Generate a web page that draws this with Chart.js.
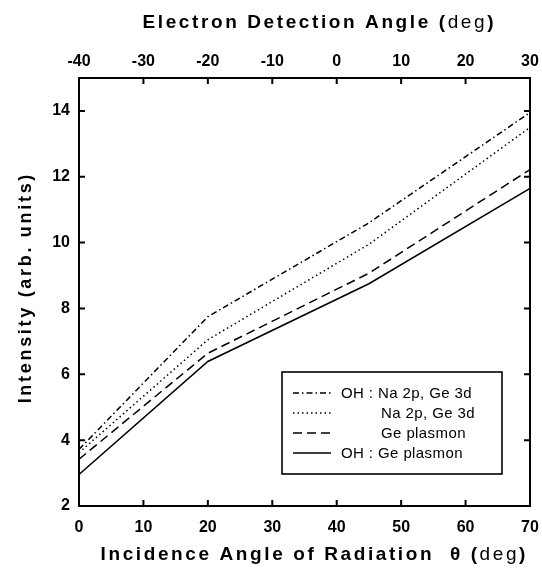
<!DOCTYPE html>
<html>
<head>
<meta charset="utf-8">
<script src="https://cdn.jsdelivr.net/npm/chart.js@4/dist/chart.umd.min.js"></script>
<style>
  html, body { margin: 0; padding: 0; background: #fff; }
  #wrap { width: 542px; height: 568px; }
</style>
</head>
<body>
<div id="wrap"><canvas id="chart" width="542" height="568"></canvas></div>
<script>
// incidence angles (bottom axis, deg)
var incidence = [0, 20, 45, 70];
// intensities (arb. units)
var ohNaGe = [3.72, 7.75, 10.6, 13.95];
var naGe = [3.62, 7.05, 9.95, 13.5];
var gePlasmon = [3.42, 6.64, 9.07, 12.22];
var ohGePlasmon = [2.96, 6.39, 8.75, 11.65];

var seriesNames = ["OH : Na 2p, Ge 3d", "Na 2p, Ge 3d", "Ge plasmon", "OH : Ge plasmon"];
var bottomTicks = [0, 10, 20, 30, 40, 50, 60, 70];
var topTicks = [-40, -30, -20, -10, 0, 10, 20, 30];
var yTicks = [2, 4, 6, 8, 10, 12, 14];

var dashes = [[6, 3, 1.5, 3], [1.5, 3], [9, 5], []];
var FONT = "'Liberation Sans', Arial, sans-serif";

function toPoints(vals) {
    return vals.map(function (v, i) { return { x: incidence[i], y: v }; });
}

function makeSet(idx, vals) {
    return {
        label: seriesNames[idx],
        data: toPoints(vals),
        borderColor: '#000',
        borderWidth: 1.5,
        borderDash: dashes[idx],
        pointRadius: 0,
        fill: false,
        tension: 0
    };
}

// text with letter spacing, mixed weights
function drawSpaced(ctx, parts, x, y, spacing, align) {
    var total = 0;
    parts.forEach(function (p) {
        ctx.font = p.font;
        for (var i = 0; i < p.text.length; i++) {
            total += ctx.measureText(p.text[i]).width + spacing;
        }
    });
    total -= spacing;
    var cx = align === 'center' ? x - total / 2 : x;
    ctx.textBaseline = 'middle';
    ctx.textAlign = 'left';
    parts.forEach(function (p) {
        ctx.font = p.font;
        for (var i = 0; i < p.text.length; i++) {
            ctx.fillText(p.text[i], cx, y);
            cx += ctx.measureText(p.text[i]).width + spacing;
        }
    });
}

// keep the plot box fixed, labels may hang over the edges
function noPad(s) {
    s.paddingLeft = 0; s.paddingRight = 0;
    s.paddingTop = 0; s.paddingBottom = 0;
}

var extras = {
    id: 'extras',
    afterDraw: function (chart) {
        var ctx = chart.ctx;
        var area = chart.chartArea;
        var sx = chart.scales.x, sx2 = chart.scales.x2, sy = chart.scales.y;
        ctx.save();
        ctx.strokeStyle = '#000';
        ctx.fillStyle = '#000';
        ctx.lineWidth = 2;

        // inward tick marks
        var len = 6;
        ctx.beginPath();
        bottomTicks.forEach(function (t) {
            var px = sx.getPixelForValue(t);
            ctx.moveTo(px, area.bottom); ctx.lineTo(px, area.bottom - len);
        });
        topTicks.forEach(function (t) {
            var px = sx2.getPixelForValue(t);
            ctx.moveTo(px, area.top); ctx.lineTo(px, area.top + len);
        });
        yTicks.forEach(function (t) {
            var py = sy.getPixelForValue(t);
            ctx.moveTo(area.left, py); ctx.lineTo(area.left + len, py);
            ctx.moveTo(area.right, py); ctx.lineTo(area.right - len, py);
        });
        ctx.stroke();

        // legend box
        var lx = 282, ly = 372, lw = 220, lh = 102;
        ctx.fillStyle = '#fff';
        ctx.fillRect(lx, ly, lw, lh);
        ctx.lineWidth = 1.6;
        ctx.strokeRect(lx, ly, lw, lh);
        var rowY = [393, 413, 433, 453];
        var textX = [341, 381, 381, 341];
        ctx.fillStyle = '#000';
        chart.data.datasets.forEach(function (ds, i) {
            ctx.lineWidth = 1.5;
            ctx.setLineDash(dashes[i]);
            ctx.beginPath();
            ctx.moveTo(293, rowY[i]);
            ctx.lineTo(331, rowY[i]);
            ctx.stroke();
            ctx.setLineDash([]);
            drawSpaced(ctx, [{ text: ds.label, font: '15px ' + FONT }], textX[i], rowY[i] + 1, 0.4, 'left');
        });

        // axis titles
        var bold = 'bold 19px ' + FONT, norm = '19px ' + FONT;
        drawSpaced(ctx, [
            { text: 'Electron Detection Angle (', font: bold },
            { text: 'deg', font: norm },
            { text: ')', font: bold }
        ], 318, 23, 2.6, 'center');

        drawSpaced(ctx, [
            { text: 'Incidence Angle of Radiation  \u03b8 (', font: bold },
            { text: 'deg', font: norm },
            { text: ')', font: bold }
        ], 313, 555, 2.6, 'center');

        ctx.translate(26, 289);
        ctx.rotate(-Math.PI / 2);
        drawSpaced(ctx, [{ text: 'Intensity (arb. units)', font: 'bold 18px ' + FONT }], 0, 0, 2.7, 'center');
        ctx.restore();
    }
};

var tickFont = { family: FONT, size: 16, weight: 'bold' };

new Chart(document.getElementById('chart'), {
    type: 'line',
    data: {
        datasets: [
            makeSet(0, ohNaGe),
            makeSet(1, naGe),
            makeSet(2, gePlasmon),
            makeSet(3, ohGePlasmon)
        ]
    },
    options: {
        responsive: false,
        animation: false,
        layout: { padding: 0 },
        plugins: { legend: { display: false }, tooltip: { enabled: false } },
        scales: {
            x: {
                type: 'linear', position: 'bottom', min: 0, max: 70,
                afterBuildTicks: function (s) { s.ticks = bottomTicks.map(function (v) { return { value: v }; }); },
                ticks: { font: tickFont, color: '#000', padding: 12, maxRotation: 0 },
                grid: { display: false, drawTicks: false },
                border: { display: true, color: '#000', width: 2 },
                afterFit: function (s) { s.height = 62; noPad(s); }
            },
            x2: {
                type: 'linear', position: 'top', min: -40, max: 30,
                afterBuildTicks: function (s) { s.ticks = topTicks.map(function (v) { return { value: v }; }); },
                ticks: { font: tickFont, color: '#000', padding: 7, maxRotation: 0 },
                grid: { display: false, drawTicks: false },
                border: { display: true, color: '#000', width: 2 },
                afterFit: function (s) { s.height = 78; noPad(s); }
            },
            y: {
                type: 'linear', position: 'left', min: 2, max: 15,
                afterBuildTicks: function (s) { s.ticks = yTicks.map(function (v) { return { value: v }; }); },
                ticks: { font: tickFont, color: '#000', padding: 9 },
                grid: { display: false, drawTicks: false },
                border: { display: true, color: '#000', width: 2 },
                afterFit: function (s) { s.width = 79; noPad(s); }
            },
            y2: {
                type: 'linear', position: 'right', min: 2, max: 15,
                ticks: { display: false },
                grid: { display: false, drawTicks: false },
                border: { display: true, color: '#000', width: 2 },
                afterFit: function (s) { s.width = 12; noPad(s); }
            }
        }
    },
    plugins: [extras]
});
</script>
</body>
</html>
